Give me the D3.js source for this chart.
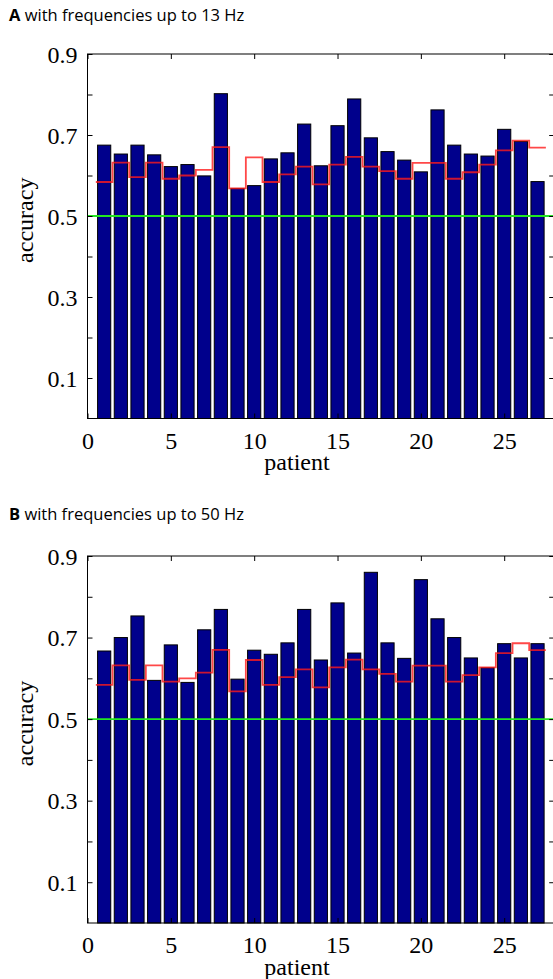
<!DOCTYPE html>
<html><head><meta charset="utf-8">
<script src="https://cdn.jsdelivr.net/npm/d3@7"></script>
<style>html,body{margin:0;padding:0;background:#fff;overflow:hidden}</style>
</head><body>
<svg id="c" width="553" height="979"></svg>
<script>
const patients = d3.range(1, 28);
const accuracy13Hz = [0.675,0.653,0.675,0.651,0.622,0.627,0.599,0.802,0.568,0.575,0.641,0.656,0.727,
  0.624,0.723,0.789,0.693,0.659,0.638,0.609,0.762,0.675,0.653,0.648,0.714,0.684,0.585];
const accuracy50Hz = [0.667,0.700,0.753,0.595,0.682,0.590,0.719,0.769,0.598,0.669,0.659,0.687,0.769,
  0.645,0.785,0.662,0.860,0.687,0.649,0.842,0.746,0.700,0.650,0.626,0.685,0.650,0.685];
const chanceLevel = [0.584,0.632,0.596,0.632,0.592,0.600,0.614,0.670,0.568,0.645,0.584,0.603,0.622,
  0.578,0.627,0.646,0.622,0.611,0.592,0.631,0.631,0.592,0.608,0.627,0.662,0.686,0.669];
const baseline = 0.5;
const yTicks = [0.1,0.2,0.3,0.4,0.5,0.6,0.7,0.8,0.9];
const yTickLabels = ["0.1","0.3","0.5","0.7","0.9"];
const xTicks = [0,5,10,15,20,25];
const panels = [
  {letter:"A", title:" with frequencies up to 13 Hz", values:accuracy13Hz, top:54, bottom:418.5, titleY:21},
  {letter:"B", title:" with frequencies up to 50 Hz", values:accuracy50Hz, top:556, bottom:923, titleY:520}
];

const svg = d3.select("#c");
const x = d3.scaleLinear().domain([0,28]).range([87.5,554.2]);
const serif = "'Liberation Serif','DejaVu Serif',serif";

panels.forEach(p => {
  const y = d3.scaleLinear().domain([0,0.9]).range([p.bottom,p.top]);
  const g = svg.append("g");

  // title
  const t = g.append("text").attr("x",9).attr("y",p.titleY)
    .style("font-family","'Open Sans',sans-serif").style("font-size","16.5px").attr("fill","#000");
  t.append("tspan").attr("font-weight","bold").text(p.letter);
  t.append("tspan").text(p.title);

  // bars
  const bw = 0.79;
  g.selectAll("rect.bar").data(p.values).join("rect")
    .attr("class","bar")
    .attr("x",(d,i)=>x(patients[i]-bw/2))
    .attr("width",x(bw)-x(0))
    .attr("y",d=>y(d))
    .attr("height",d=>y(0)-y(d))
    .attr("fill","#00008c").attr("stroke","#000").attr("stroke-width",1);

  // chance level step line
  const pts = chanceLevel.map((v,i)=>[patients[i]-0.5,v]);
  pts.push([patients[patients.length-1]+0.5, chanceLevel[chanceLevel.length-1]]);
  g.append("path").datum(pts)
    .attr("d",d3.line().x(d=>x(d[0])).y(d=>y(d[1])).curve(d3.curveStepAfter))
    .attr("fill","none").attr("stroke","#ff1a1a").attr("stroke-opacity",0.8).attr("stroke-width",1.8);

  // green baseline
  g.append("line").attr("x1",x(0)).attr("x2",x(28)).attr("y1",y(baseline)).attr("y2",y(baseline))
    .attr("stroke","#22e622").attr("stroke-width",1.8);

  // frame
  g.append("rect").attr("x",x(0)).attr("y",y(0.9)).attr("width",x(28)-x(0)).attr("height",y(0)-y(0.9))
    .attr("fill","none").attr("stroke","#000").attr("stroke-width",1);

  // axes (ticks inward)
  const yl = d3.axisLeft(y).tickValues(yTicks).tickSize(-5).tickFormat(d=>{
    const s = d3.format(".1f")(d); return yTickLabels.includes(s)?s:"";}).tickPadding(10);
  const ga = g.append("g").attr("transform",`translate(${x(0)},0)`).call(yl);
  const yr = d3.axisRight(y).tickValues(yTicks).tickSize(-5).tickFormat("");
  const gr = g.append("g").attr("transform",`translate(${x(28)},0)`).call(yr);
  const xt = d3.axisTop(x).tickValues(xTicks).tickSize(-5).tickFormat("");
  const gt = g.append("g").attr("transform",`translate(0,${y(0.9)})`).call(xt);
  const xb = d3.axisBottom(x).tickValues(xTicks).tickSize(-5).tickFormat(d3.format("d")).tickPadding(13);
  const gb = g.append("g").attr("transform",`translate(0,${y(0)})`).call(xb);
  [ga,gr,gt,gb].forEach(a=>{
    a.select(".domain").remove();
    a.selectAll("line").attr("stroke","#000");
    a.selectAll("text").style("font-family",serif).style("font-size","24px").attr("fill","#000");
  });
  ga.selectAll("text").attr("dy","0.34em");
  gb.selectAll("text").attr("dy","0.71em");

  // axis titles
  g.append("text").attr("transform",`translate(33,${(p.top+p.bottom)/2-16}) rotate(-90)`)
    .attr("text-anchor","middle").style("font-family",serif).style("font-size","24px").text("accuracy");
  g.append("text").attr("x",297).attr("y",p.bottom+51.5)
    .attr("text-anchor","middle").style("font-family",serif).style("font-size","24px").text("patient");
});
</script>
</body></html>
